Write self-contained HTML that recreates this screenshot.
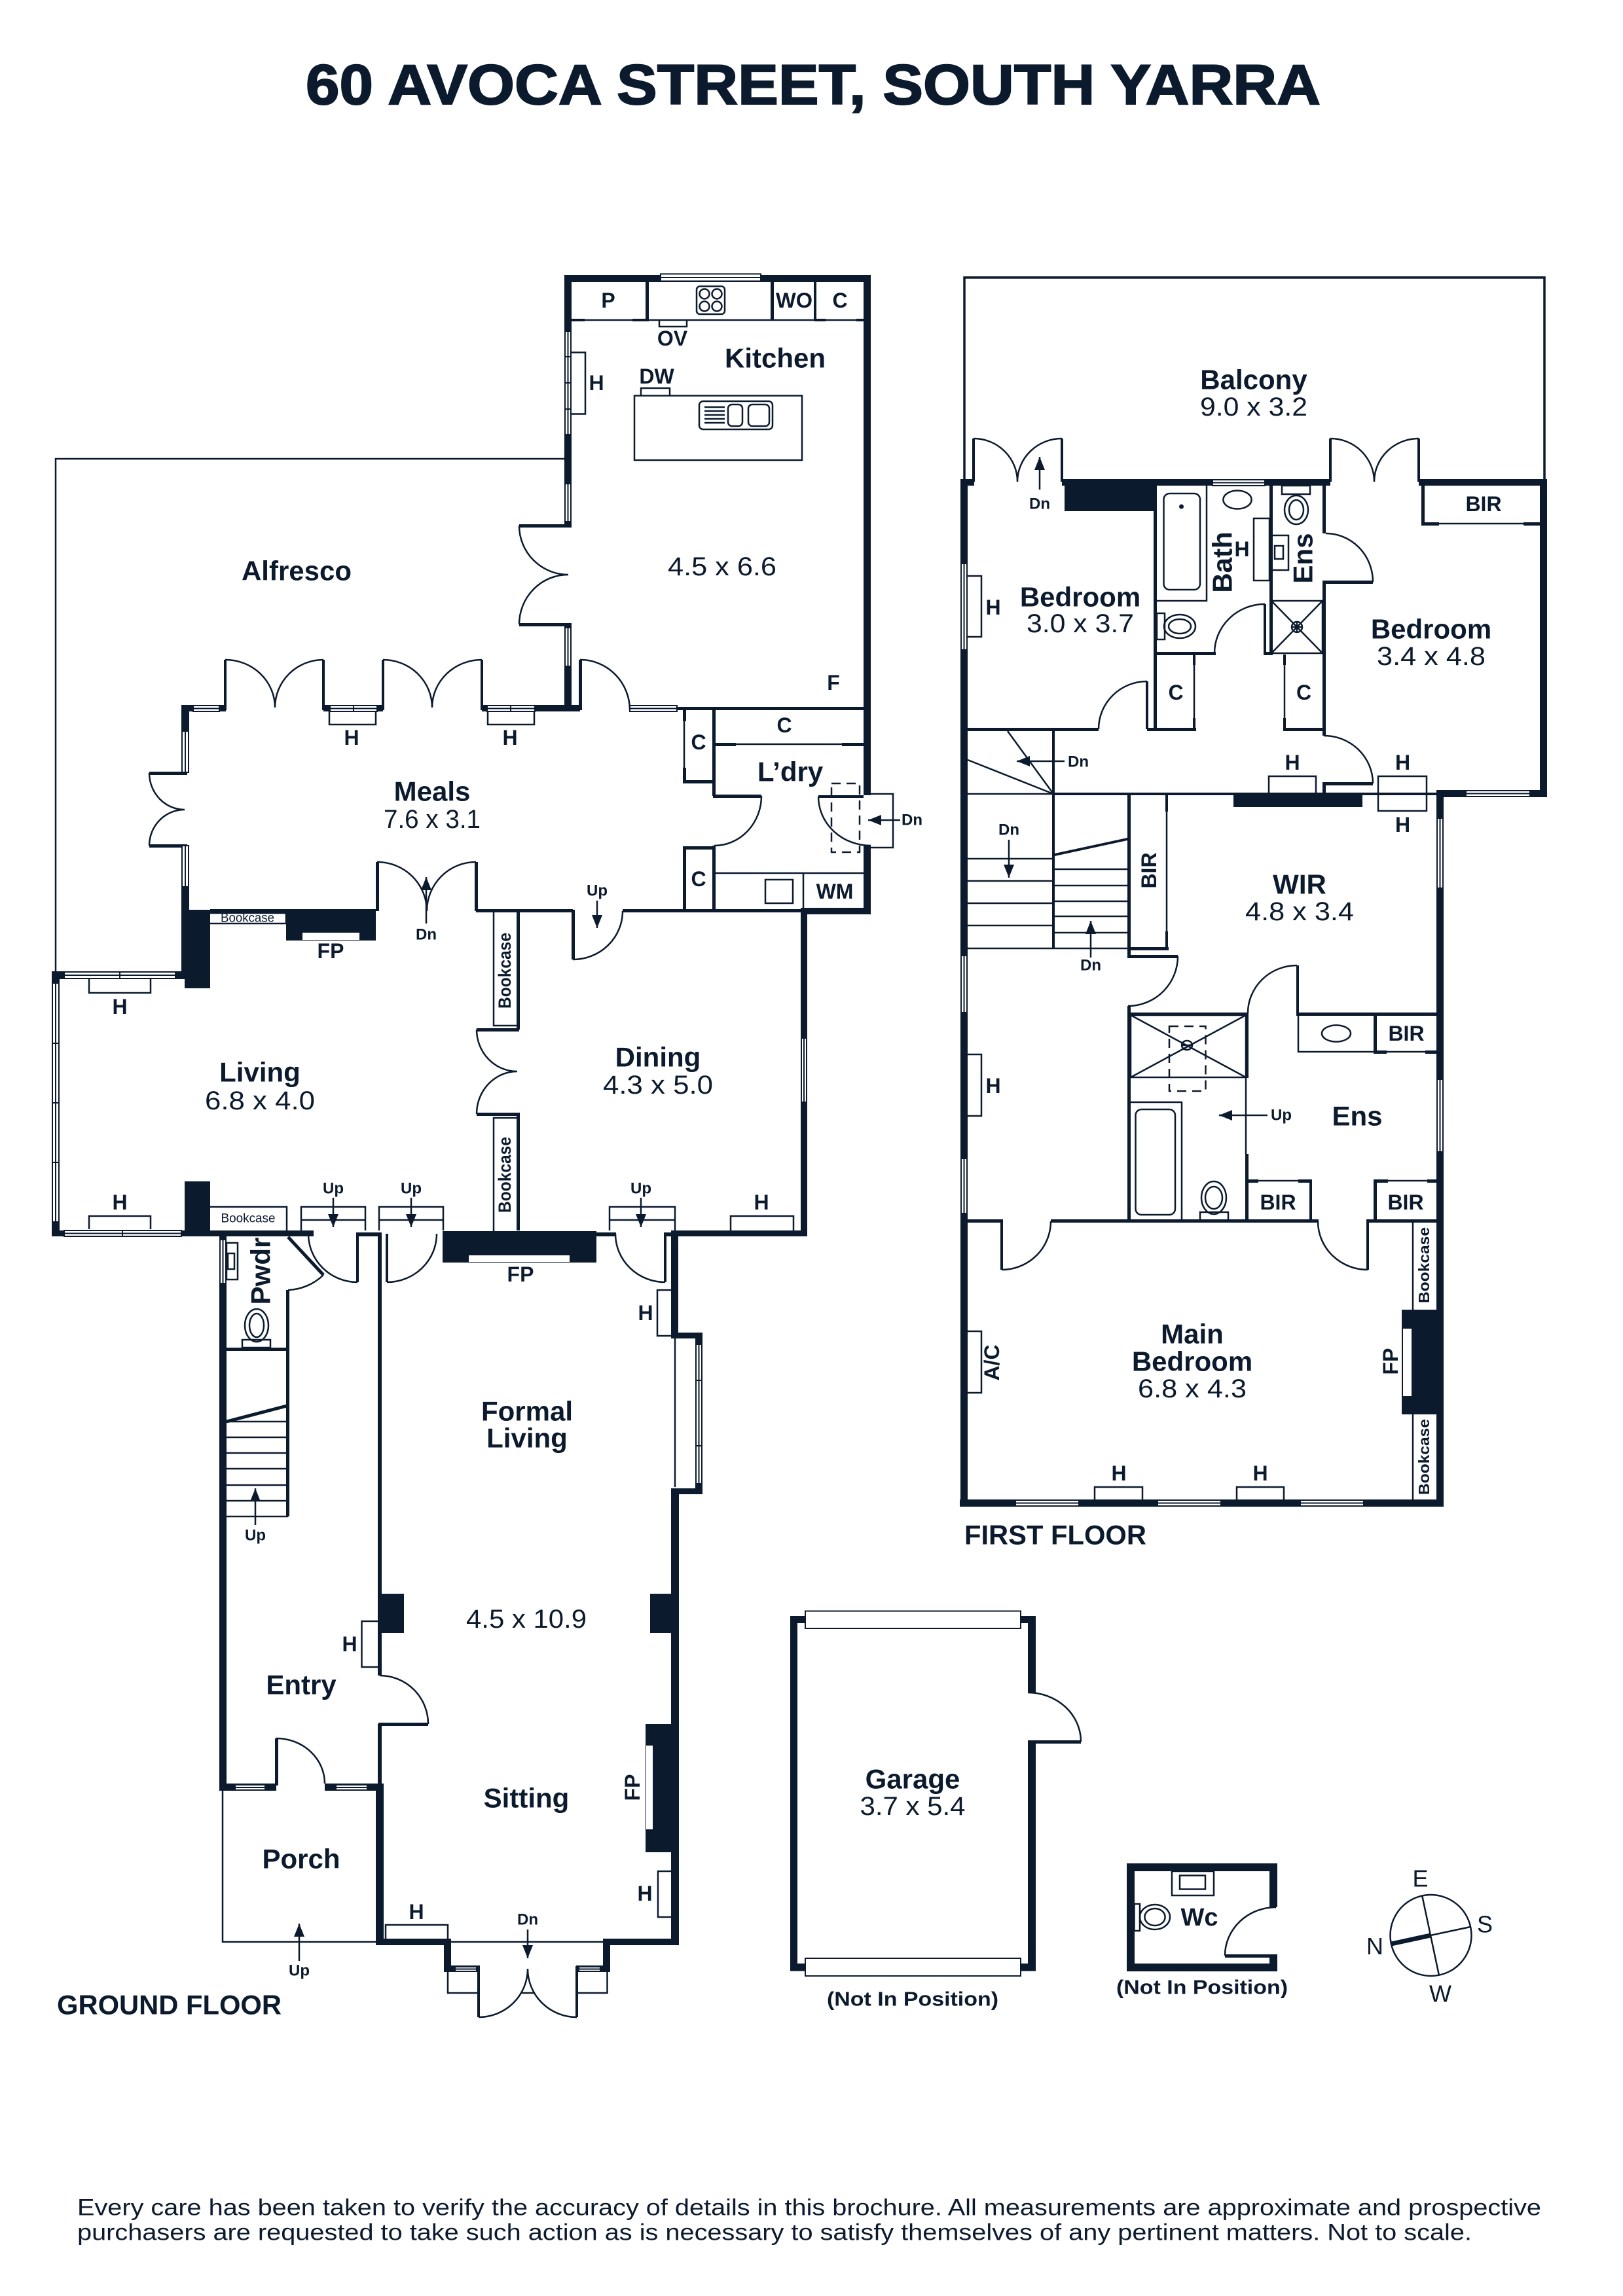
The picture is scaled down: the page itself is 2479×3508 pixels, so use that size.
<!DOCTYPE html>
<html><head><meta charset="utf-8"><title>60 Avoca Street, South Yarra</title>
<style>
html,body{margin:0;padding:0;background:#fff}
svg{display:block}
text{font-family:"Liberation Sans",sans-serif;fill:#0c1a2e;text-anchor:middle;dominant-baseline:central}
.b{font-weight:700;font-size:42px}
.r{font-size:40px}
.s{font-weight:700;font-size:32px}
.t{font-weight:700;font-size:24px}
.l{font-weight:700;font-size:42px;text-anchor:start}
.bc{font-size:19px}
.vb{font-size:27px;font-weight:700}
.c{font-size:36px}
.np{font-weight:700;font-size:31px}
</style></head><body>
<svg xmlns="http://www.w3.org/2000/svg" width="2479" height="3508" viewBox="0 0 2479 3508">
<defs><marker id="a" markerUnits="userSpaceOnUse" markerWidth="22" markerHeight="18" refX="20" refY="8" orient="auto"><path d="M0 0L20 8L0 16z" fill="#0c1a2e"/></marker></defs>
<rect width="2479" height="3508" fill="#fff"/>

<!-- thin lines -->
<g fill="none" stroke="#0c1a2e" stroke-width="2.5">
<path d="M862 701H85V1484"/>
<path d="M340 2736V2967H576"/>
<path d="M689 2967H921"/>
<path d="M873 489H1319"/>
<path d="M1045 1100V1175M1123 1137H1286"/>
<path d="M1031 2045V2272"/>
<path d="M1091 1334H1319M1227 1334V1390"/>
<path d="M754 1392V1567H790M754 1881V1708H790"/>
<path d="M321 1395H437M321 1411H437M437 1395V1411"/>
<path d="M321 1844H438V1881"/>
<path d="M1473 732V424H2359V732" stroke-width="3.5"/>
<path d="M2198 800H2327"/>
<path d="M1824 1016V1097M1962 1016V1097"/>
<path d="M1539 1117L1609 1213M1478 1161L1609 1213M1478 1213H1609"/>
<path d="M1478 1312H1609M1478 1346H1609M1478 1380H1609M1478 1414H1609M1478 1449H1609"/>
<path d="M1609 1328H1722M1609 1353H1722M1609 1377H1722M1609 1400H1722M1609 1425H1722M1609 1449H1722"/>
<path d="M1782 1240V1423"/>
<path d="M1903 1647V1763"/>
<path d="M2118 1607H2177"/>
<path d="M1922 1804H1983M2120 1804H2180"/>
<path d="M2158 1868V2001M2158 2161V2291"/>
<path d="M346 2196H440M346 2220H440M346 2244H440M346 2269H440M346 2293H440M346 2317H440M346 2172H440"/>
<!-- H boxes ground -->
<path d="M873 538.5H894V632.5H873"/>
<path d="M1007 489V499H1049V489"/>
<path d="M979 604.5V593H1023V604.5"/>
<rect x="969" y="604.5" width="256" height="98.5"/>
<path d="M503 1086V1107H574V1086M745 1086V1107H816V1086"/>
<path d="M136 1496V1517H230V1496M136 1878V1858H230V1878"/>
<path d="M1116 1880V1858H1212V1880"/>
<path d="M460 1880V1844H558V1880M460 1864H558M579 1880V1844H677V1880M579 1864H677M931 1880V1844H1031V1880M931 1864H1031"/>
<path d="M1025 1971H1004V2041H1025"/>
<path d="M577 2477H552.5V2547H577"/>
<path d="M1025 2859H1005V2929H1025"/>
<path d="M589 2962V2941H684V2962"/>
<path d="M684 3013V3045H731M881 3045H927.5V3013M795 3045H817"/>
<path d="M1330 1213H1364V1295H1330"/>
<path d="M1270 1197H1313V1302H1270z" stroke-dasharray="14 9"/>
<rect x="1169" y="1344" width="42" height="36"/>
<!-- H boxes first -->
<path d="M1478 880H1499V973H1478"/>
<path d="M1915 792H1939V887H1915z"/>
<path d="M1938 1211V1186H2010V1211"/>
<rect x="2105" y="1186" width="74" height="53"/>
<path d="M1478 1611H1499V1705H1478M1478 2034H1499V2128H1478"/>
<path d="M1672 2291V2272H1745V2291M1889 2291V2272H1961V2291"/>
<path d="M1786 1568H1841.5V1667H1786z" stroke-dasharray="14 9"/>
<!-- bath etc -->
<path d="M1767 918H1843V742"/>
<rect x="1777.5" y="754" width="55.5" height="147" rx="9"/>
<ellipse cx="1890" cy="763.5" rx="21.6" ry="14"/>
<rect x="1958" y="742" width="43" height="13"/>
<ellipse cx="1980" cy="779" rx="18" ry="22"/><ellipse cx="1980" cy="779" rx="11" ry="15"/>
<rect x="1942" y="818" width="26" height="53"/><rect x="1947" y="834" width="13" height="20"/>
<rect x="1942" y="918" width="78" height="80"/>
<path d="M1942 918L2020 998M2020 918L1942 998"/>
<circle cx="1981" cy="958" r="8"/><path d="M1973 958H1989M1981 950V966"/>
<rect x="1767" y="937" width="12" height="40"/>
<ellipse cx="1802" cy="957" rx="24" ry="18"/><ellipse cx="1802" cy="957" rx="17" ry="11"/>
<rect x="1727" y="1551" width="176" height="95"/>
<path d="M1727 1551L1903 1646M1903 1551L1727 1646"/>
<ellipse cx="1813" cy="1597" rx="8" ry="7"/><path d="M1805 1597H1821"/>
<path d="M1727 1684H1805V1865"/>
<rect x="1734.5" y="1695" width="60.5" height="161" rx="9"/>
<ellipse cx="1854" cy="1830" rx="19" ry="25"/><ellipse cx="1854" cy="1830" rx="13" ry="17"/>
<rect x="1833" y="1852" width="43" height="13"/>
<path d="M1983 1549V1607H2098"/>
<ellipse cx="2041" cy="1579" rx="22" ry="12.6"/>
<!-- kitchen fixtures -->
<rect x="1064" y="437.5" width="43" height="42.5" rx="5"/>
<circle cx="1076" cy="449" r="7.5"/><circle cx="1095" cy="449" r="7.5"/><circle cx="1076" cy="468" r="7.5"/><circle cx="1095" cy="468" r="7.5"/>
<rect x="1068" y="613" width="112" height="43" rx="6"/>
<rect x="1112" y="618" width="22" height="33" rx="6"/><rect x="1143" y="618" width="32" height="33" rx="6"/>
<path d="M1076 622H1107M1076 628H1107M1076 634H1107M1076 640H1107M1076 646H1107"/>
<!-- powder -->
<rect x="346" y="1899" width="17" height="56"/><rect x="348" y="1915" width="10" height="24"/>
<ellipse cx="392" cy="2025" rx="18" ry="25"/><ellipse cx="392" cy="2025" rx="11" ry="18"/>
<rect x="370" y="2047" width="43" height="12"/>
<path d="M346 2172L438 2148" stroke-width="5"/>
<path d="M440 1890L494 1948" stroke-width="5"/>
<!-- doors -->
<path d="M793 803A75 75 0 0 0 868 878A75 76 0 0 0 793 954"/>
<path d="M344 1008A76 73 0 0 1 420 1081M494 1008A74 73 0 0 0 420 1081M585 1008A75 73 0 0 1 660 1081M736 1008A76 73 0 0 0 660 1081M886 1008A76 77 0 0 1 962 1085"/>
<path d="M228 1181A54 56 0 0 0 282 1237M228 1292A54 55 0 0 1 282 1237"/>
<path d="M1163 1216A72 76 0 0 1 1091 1292M1250 1217A80 75 0 0 0 1330 1292"/>
<path d="M576 1317A76 75 0 0 1 652 1392M727 1317A75 75 0 0 0 652 1392"/>
<path d="M875 1466A76 74 0 0 0 951 1392"/>
<path d="M728 1573A62 64 0 0 0 790 1637M728 1702A62 65 0 0 1 790 1637"/>
<path d="M546 1959A75 74 0 0 1 471 1885M591 1959A76 74 0 0 0 667 1885M1016 1959A76 74 0 0 1 940 1885"/>
<path d="M494 1948A83 83 0 0 1 440 1971"/>
<path d="M580 2560A74 74 0 0 1 654 2634M422 2656A74 69 0 0 1 496 2725"/>
<path d="M731 3082A75 74 0 0 0 806 3008M881 3082A75 74 0 0 1 806 3008"/>
<path d="M1487 670A67 66 0 0 1 1554 736M1622 670A68 66 0 0 0 1554 736M2032 670A67 66 0 0 1 2099 736M2167 670A68 66 0 0 0 2099 736"/>
<path d="M2025 815A72 74 0 0 1 2097 889M1932 923A77 75 0 0 0 1855 998M1752 1041A74 73 0 0 0 1678 1114M2022 1124A75 73 0 0 1 2097 1197"/>
<path d="M1799 1461A76 76 0 0 1 1723 1537M1981 1475A75 73 0 0 0 1906 1548M1530 1940A75 74 0 0 0 1605 1866M2089 1940A76 74 0 0 1 2013 1866"/>
<path d="M1570 2586A81 75 0 0 1 1651 2661M1949 2914A78 74 0 0 0 1871 2988"/>
<!-- garage/wc fixtures -->
<rect x="1790" y="2859" width="64" height="37"/><rect x="1802" y="2865.5" width="39" height="21"/>
<rect x="1732.5" y="2909" width="8.5" height="41"/>
<ellipse cx="1764" cy="2929" rx="23" ry="19"/><ellipse cx="1764" cy="2929" rx="15.6" ry="13"/>
<circle cx="2185.5" cy="2957" r="62"/>
<path d="M2185 2957L2246 2944M2172 2895.5L2198 3018"/>
<path d="M2125 2970L2185 2957" stroke-width="7"/>
</g>

<!-- walls -->
<g fill="#0c1a2e">
<rect x="862" y="420" width="468" height="11"/><rect x="1319" y="420" width="11" height="795"/><rect x="1319" y="1292" width="11" height="105"/>
<rect x="862" y="420" width="11" height="383"/><rect x="862" y="954" width="11" height="131"/><rect x="1223" y="1387" width="107" height="10"/>
<rect x="986" y="430" width="5" height="59"/><rect x="1177" y="430" width="5" height="59"/><rect x="1243" y="430" width="4" height="59"/>
<rect x="873" y="487" width="20" height="4"/><rect x="966" y="487" width="25" height="4"/><rect x="1244" y="487" width="17" height="4"/><rect x="1308" y="487" width="11" height="4"/>
<rect x="793" y="801" width="80" height="5"/><rect x="793" y="952" width="80" height="5"/>
<rect x="277" y="1077" width="68" height="10"/><rect x="494" y="1077" width="91" height="10"/><rect x="736" y="1077" width="150" height="10"/>
<rect x="342" y="1008" width="4" height="77"/><rect x="492" y="1008" width="4" height="77"/><rect x="583" y="1008" width="4" height="77"/><rect x="734" y="1008" width="4" height="77"/><rect x="884" y="1008" width="5" height="77"/>
<rect x="277" y="1077" width="12" height="104"/><rect x="277" y="1292" width="12" height="98"/>
<rect x="228" y="1179" width="58" height="5"/><rect x="228" y="1290" width="58" height="5"/>
<rect x="1034" y="1080" width="285" height="5"/>
<rect x="1088" y="1082" width="5" height="134"/><rect x="1089" y="1214" width="74" height="5"/><rect x="1088" y="1292" width="5" height="100"/>
<rect x="1043" y="1082" width="5" height="20"/><rect x="1043" y="1173" width="5" height="24"/><rect x="1043" y="1192" width="50" height="5"/><rect x="1043" y="1293" width="50" height="5"/><rect x="1043" y="1293" width="5" height="99"/>
<rect x="1091" y="1135" width="33" height="5"/><rect x="1286" y="1135" width="33" height="5"/>
<rect x="1250" y="1215" width="69" height="4"/>
<rect x="574" y="1317" width="5" height="75"/><rect x="725" y="1317" width="5" height="75"/><rect x="873" y="1390" width="5" height="76"/>
<rect x="727" y="1389" width="148" height="5"/><rect x="951" y="1389" width="272" height="5"/>
<rect x="321" y="1389" width="253" height="6"/><rect x="437" y="1389" width="137" height="48"/>
<rect x="277" y="1390" width="44" height="95"/><rect x="282" y="1485" width="39" height="25"/>
<rect x="789" y="1392" width="5" height="181"/><rect x="728" y="1571" width="65" height="5"/><rect x="728" y="1700" width="65" height="5"/><rect x="789" y="1700" width="5" height="180"/>
<rect x="79" y="1484" width="203" height="12"/><rect x="79" y="1484" width="12" height="405"/><rect x="79" y="1880" width="400" height="9"/><rect x="282" y="1805" width="39" height="84"/>
<rect x="544" y="1883" width="39" height="6"/><rect x="544" y="1885" width="4" height="74"/><rect x="589" y="1885" width="4" height="74"/><rect x="911" y="1883" width="30" height="6"/><rect x="1014" y="1885" width="4" height="74"/><rect x="1014" y="1883" width="22" height="6"/>
<rect x="676" y="1881" width="235" height="48"/>
<rect x="1027" y="1880" width="206" height="9"/><rect x="1223" y="1397" width="10" height="492"/>
<rect x="1025" y="1880" width="11" height="165"/><rect x="1025" y="2036" width="48" height="9"/><rect x="1062" y="2036" width="11" height="247"/><rect x="1025" y="2274" width="48" height="9"/><rect x="1025" y="2274" width="12" height="698"/>
<rect x="335" y="1885" width="11" height="851"/><rect x="335" y="2725" width="87" height="11"/><rect x="496" y="2725" width="90" height="11"/>
<rect x="420" y="2656" width="5" height="72"/>
<rect x="437" y="1971" width="5" height="346"/><rect x="346" y="2059" width="94" height="5"/><rect x="335" y="1883" width="105" height="6"/><rect x="436" y="1883" width="35" height="6"/>
<rect x="577" y="1885" width="6" height="675"/><rect x="577" y="2634" width="6" height="100"/><rect x="578" y="2632" width="76" height="5"/>
<rect x="582" y="2435" width="35" height="60"/><rect x="993" y="2435" width="32" height="60"/><rect x="986" y="2634" width="39" height="196"/>
<rect x="574" y="2725" width="12" height="247"/><rect x="574" y="2962" width="115" height="10"/><rect x="678" y="2962" width="11" height="51"/><rect x="678" y="3003" width="55" height="10"/>
<rect x="921" y="2962" width="116" height="10"/><rect x="921" y="2962" width="11" height="51"/><rect x="880" y="3003" width="52" height="10"/>
<rect x="729" y="3004" width="4" height="78"/><rect x="879" y="3004" width="4" height="78"/>
<!-- first floor -->
<rect x="1467" y="732" width="21" height="10"/><rect x="1622" y="732" width="410" height="10"/><rect x="2167" y="732" width="196" height="10"/>
<rect x="1485" y="670" width="4" height="66"/><rect x="1620" y="670" width="4" height="66"/><rect x="2030" y="670" width="4" height="66"/><rect x="2165" y="670" width="4" height="66"/>
<rect x="1467" y="732" width="11" height="1570"/><rect x="1466" y="2291" width="739" height="11"/><rect x="2352" y="732" width="11" height="486"/>
<rect x="2194" y="1207" width="169" height="11"/><rect x="2194" y="1207" width="11" height="1095"/>
<rect x="1626" y="732" width="138" height="49"/>
<rect x="1762" y="742" width="5" height="372"/><rect x="1939" y="742" width="5" height="257"/><rect x="2020" y="742" width="5" height="73"/><rect x="2020" y="889" width="5" height="235"/><rect x="2020" y="887" width="77" height="5"/>
<rect x="2171" y="742" width="5" height="60"/><rect x="2171" y="798" width="27" height="5"/><rect x="2327" y="798" width="25" height="5"/>
<rect x="1762" y="996" width="95" height="5"/><rect x="1930" y="996" width="14" height="5"/><rect x="1930" y="923" width="4" height="75"/>
<rect x="1822" y="1000" width="4" height="16"/><rect x="1822" y="1097" width="4" height="17"/><rect x="1752" y="1112" width="75" height="5"/><rect x="1750" y="1041" width="4" height="73"/>
<rect x="1960" y="1000" width="4" height="16"/><rect x="1960" y="1097" width="4" height="17"/><rect x="1960" y="1112" width="62" height="5"/>
<rect x="1478" y="1112" width="200" height="5"/><rect x="2020" y="1195" width="77" height="5"/><rect x="2020" y="1195" width="5" height="20"/>
<rect x="1609" y="1211" width="590" height="4"/><rect x="1884" y="1214" width="197" height="19"/>
<rect x="1607" y="1117" width="4" height="332"/><rect x="1722" y="1213" width="5" height="248"/><rect x="1780" y="1214" width="4" height="26"/><rect x="1780" y="1423" width="4" height="26"/><rect x="1724" y="1447" width="61" height="5"/>
<rect x="1722" y="1459" width="77" height="5"/><rect x="1722" y="1537" width="5" height="328"/><rect x="1722" y="1547" width="183" height="5"/><rect x="1902" y="1547" width="5" height="100"/><rect x="1902" y="1763" width="5" height="102"/>
<rect x="1980" y="1475" width="4" height="76"/><rect x="1980" y="1547" width="214" height="5"/><rect x="2098" y="1547" width="5" height="60"/><rect x="2098" y="1605" width="20" height="5"/><rect x="2177" y="1605" width="17" height="5"/>
<rect x="1902" y="1802" width="20" height="5"/><rect x="1983" y="1802" width="21" height="5"/><rect x="2000" y="1802" width="4" height="63"/><rect x="2098" y="1802" width="5" height="63"/><rect x="2098" y="1802" width="22" height="5"/><rect x="2180" y="1802" width="14" height="5"/>
<rect x="1478" y="1863" width="54" height="5"/><rect x="1528" y="1863" width="4" height="77"/><rect x="1605" y="1863" width="409" height="5"/><rect x="2087" y="1863" width="4" height="77"/><rect x="2087" y="1863" width="107" height="5"/>
<rect x="2141" y="2001" width="64" height="160"/>
<path d="M1611 1304L1722 1280L1722 1284L1611 1308z"/>
<!-- garage -->
<rect x="1207" y="2469" width="11" height="542"/><rect x="1570" y="2469" width="12" height="117"/><rect x="1570" y="2661" width="12" height="350"/><rect x="1570" y="2659" width="81" height="5"/>
<rect x="1207" y="2469" width="25" height="11"/><rect x="1557" y="2469" width="25" height="11"/><rect x="1207" y="3000" width="25" height="11.5"/><rect x="1557" y="3000" width="25" height="11.5"/>
<!-- wc -->
<rect x="1721" y="2847" width="230" height="12"/><rect x="1721" y="2847" width="12" height="165"/><rect x="1939" y="2847" width="12" height="67"/><rect x="1939" y="2986" width="12" height="26"/><rect x="1721" y="3000" width="230" height="12"/><rect x="1871" y="2986" width="80" height="5"/>
<circle cx="1804.5" cy="774" r="3.5"/>
</g>

<!-- garage doors, fireplace whites, windows -->
<g fill="#fff" stroke="#0c1a2e" stroke-width="2">
<rect x="1230" y="2461.5" width="329" height="26.5"/><rect x="1230" y="2992" width="329" height="27"/>
<rect x="462" y="1425" width="87" height="11" stroke="none"/><rect x="716" y="1918" width="154" height="10" stroke="none"/><rect x="987" y="2667" width="10" height="128" stroke="none"/><rect x="2143" y="2030" width="13" height="103" stroke="none"/>
<!-- ground windows -->
<path d="M1009 418.5h153v11h-153zM1009 424h153"/>
<path d="M863 506h9v158h-9zM867.500 506v158M863 545h9M863 585h9M863 625h9"/>
<path d="M863 739h9v58h-9zM867.500 739v58"/><path d="M863 959h9v59h-9zM867.500 959v59"/>
<path d="M295 1078h40v9h-40zM295 1082.500h40"/><path d="M504 1078h72v9h-72zM504 1082.500h72M540 1078v9"/><path d="M744 1078h73v9h-73zM744 1082.500h73M780 1078v9"/><path d="M962 1078h72v9h-72zM962 1082.500h72"/>
<path d="M278 1117h10v63h-10zM283 1117v63"/><path d="M278 1292h10v63h-10zM283 1292v63"/>
<path d="M98 1485h170v10h-170zM98 1490h170M183 1485v10"/><path d="M80 1502h10v365h-10zM85 1502v365M80 1594h10M80 1685h10M80 1776h10"/><path d="M98 1880h179v9h-179zM98 1884.500h179M187 1880v9"/>
<path d="M1224 1586h8v98h-8zM1228 1586v98"/><path d="M336 1894h9v67h-9zM340.500 1894v67"/><path d="M1063 2054h9v213h-9zM1067.500 2054v213M1063 2109h9M1063 2209h9"/>
<path d="M359 2727h46v8h-46zM359 2731h46"/><path d="M513 2727h48v8h-48zM513 2731h48"/><path d="M695 3005h33v7h-33zM695 3008.500h33"/><path d="M884 3005h33v7h-33zM884 3008.500h33"/>
<!-- first windows -->
<path d="M1468 861h9v132h-9zM1472.500 861v132"/><path d="M1852 733h80v9h-80zM1852 737.500h80"/><path d="M2239 1208h98v9h-98zM2239 1212.500h98"/>
<path d="M2195 1250h9v107h-9zM2199.500 1250v107"/><path d="M2195 1649h9v111h-9zM2199.500 1649v111"/>
<path d="M1468 1460h9v87h-9zM1472.500 1460v87"/><path d="M1468 1770h9v84h-9zM1472.500 1770v84"/>
<path d="M1551 2292h97v9h-97zM1551 2296.500h97"/><path d="M1768 2292h97v9h-97zM1768 2296.500h97"/><path d="M1986 2292h97v9h-97zM1986 2296.500h97"/>
</g>

<!-- arrows -->
<g fill="none" stroke="#0c1a2e" stroke-width="2.5">
<path marker-end="url(#a)" d="M1375 1253H1326"/>
<path marker-end="url(#a)" d="M651 1411V1340"/>
<path marker-end="url(#a)" d="M912 1376V1418"/>
<path marker-end="url(#a)" d="M509 1830V1875"/>
<path marker-end="url(#a)" d="M628 1830V1875"/>
<path marker-end="url(#a)" d="M979 1830V1875"/>
<path marker-end="url(#a)" d="M390 2330V2274"/>
<path marker-end="url(#a)" d="M457 2996V2939"/>
<path marker-end="url(#a)" d="M806 2948V2992"/>
<path marker-end="url(#a)" d="M1588 748V698"/>
<path marker-end="url(#a)" d="M1626 1163H1553"/>
<path marker-end="url(#a)" d="M1541 1283V1341"/>
<path marker-end="url(#a)" d="M1666 1463V1407"/>
<path marker-end="url(#a)" d="M1936 1704H1862"/>
</g>

<!-- text -->
<text x="1242" y="130" font-size="86" font-weight="700" stroke="#0c1a2e" stroke-width="2" textLength="1550" lengthAdjust="spacingAndGlyphs">60 AVOCA STREET, SOUTH YARRA</text>

<text class="s" x="929" y="459">P</text>
<text class="s" x="1213" y="459" textLength="56" lengthAdjust="spacingAndGlyphs">WO</text>
<text class="s" x="1283" y="459">C</text>
<text class="s" x="1027" y="517">OV</text>
<text class="s" x="1003" y="575">DW</text>
<text class="b" x="1184" y="547">Kitchen</text>
<text class="s" x="911" y="585">H</text>
<text class="b" x="453" y="872">Alfresco</text>
<text class="r" x="1103" y="866" textLength="166" lengthAdjust="spacingAndGlyphs">4.5 x 6.6</text>
<text class="s" x="1273" y="1043">F</text>
<text class="s" x="537" y="1127">H</text><text class="s" x="779" y="1127">H</text>
<text class="s" x="1198" y="1108">C</text><text class="s" x="1067" y="1134">C</text><text class="s" x="1067" y="1343">C</text>
<text class="b" x="1207" y="1179">L’dry</text>
<text class="s" x="1275" y="1362">WM</text>
<text class="t" x="1393" y="1253">Dn</text>
<text class="b" x="660" y="1209">Meals</text>
<text class="r" x="660" y="1252" textLength="148" lengthAdjust="spacingAndGlyphs">7.6 x 3.1</text>
<text class="t" x="651" y="1428">Dn</text>
<text class="t" x="912" y="1361">Up</text>
<text class="bc" x="378" y="1403" textLength="82" lengthAdjust="spacingAndGlyphs">Bookcase</text>
<text class="s" x="505" y="1453">FP</text>
<text class="vb" transform="translate(771 1483) rotate(-90)" textLength="116" lengthAdjust="spacingAndGlyphs">Bookcase</text>
<text class="vb" transform="translate(771 1795) rotate(-90)" textLength="116" lengthAdjust="spacingAndGlyphs">Bookcase</text>
<text class="s" x="183" y="1538">H</text><text class="s" x="183" y="1837">H</text><text class="s" x="1163" y="1837">H</text>
<text class="b" x="397" y="1638">Living</text>
<text class="r" x="397" y="1682" textLength="168" lengthAdjust="spacingAndGlyphs">6.8 x 4.0</text>
<text class="b" x="1005" y="1615">Dining</text>
<text class="r" x="1005" y="1658" textLength="168" lengthAdjust="spacingAndGlyphs">4.3 x 5.0</text>
<text class="bc" x="379" y="1862" textLength="83" lengthAdjust="spacingAndGlyphs">Bookcase</text>
<text class="t" x="509" y="1816">Up</text><text class="t" x="628" y="1816">Up</text><text class="t" x="979" y="1816">Up</text>
<text class="s" x="795" y="1947">FP</text>
<text class="b" transform="translate(398 1942) rotate(-90)">Pwdr</text>
<text class="s" x="986" y="2006">H</text>
<text class="b" x="805" y="2156">Formal</text><text class="b" x="805" y="2197">Living</text>
<text class="t" x="390" y="2346">Up</text>
<text class="r" x="804" y="2474" textLength="184" lengthAdjust="spacingAndGlyphs">4.5 x 10.9</text>
<text class="s" x="534" y="2512">H</text>
<text class="b" x="460" y="2574">Entry</text>
<text class="b" x="804" y="2747">Sitting</text>
<text class="s" transform="translate(966 2731) rotate(-90)">FP</text>
<text class="b" x="460" y="2840">Porch</text>
<text class="s" x="985" y="2893">H</text><text class="s" x="636" y="2921">H</text>
<text class="t" x="806" y="2933">Dn</text><text class="t" x="457" y="3011">Up</text>
<text class="l" x="87" y="3063" textLength="343" lengthAdjust="spacingAndGlyphs">GROUND FLOOR</text>

<text class="b" x="1915" y="580">Balcony</text>
<text class="r" x="1915" y="622" textLength="164" lengthAdjust="spacingAndGlyphs">9.0 x 3.2</text>
<text class="t" x="1588" y="770">Dn</text>
<text class="s" x="2266" y="770">BIR</text>
<text class="b" transform="translate(1867 859) rotate(-90)">Bath</text>
<text class="s" x="1897" y="839">H</text>
<text class="b" transform="translate(1990 853) rotate(-90)">Ens</text>
<text class="s" x="1517" y="928">H</text>
<text class="b" x="1650" y="912">Bedroom</text>
<text class="r" x="1650" y="953" textLength="164" lengthAdjust="spacingAndGlyphs">3.0 x 3.7</text>
<text class="b" x="2186" y="961">Bedroom</text>
<text class="r" x="2186" y="1003" textLength="166" lengthAdjust="spacingAndGlyphs">3.4 x 4.8</text>
<text class="s" x="1796" y="1058">C</text><text class="s" x="1991.5" y="1058">C</text>
<text class="t" x="1647" y="1164">Dn</text>
<text class="s" x="1974" y="1165">H</text><text class="s" x="2142.600" y="1165">H</text><text class="s" x="2142.600" y="1260">H</text>
<text class="t" x="1541" y="1268">Dn</text>
<text class="s" transform="translate(1755 1330) rotate(-90)">BIR</text>
<text class="b" x="1985" y="1351">WIR</text>
<text class="r" x="1985" y="1393" textLength="166" lengthAdjust="spacingAndGlyphs">4.8 x 3.4</text>
<text class="t" x="1666" y="1475">Dn</text>
<text class="s" x="2148" y="1579">BIR</text>
<text class="s" x="1517" y="1659">H</text>
<text class="t" x="1957" y="1704">Up</text>
<text class="b" x="2073" y="1705">Ens</text>
<text class="s" x="1952" y="1837">BIR</text><text class="s" x="2147" y="1837">BIR</text>
<text class="vb" transform="translate(2175 1933) rotate(-90)" style="font-size:23px" textLength="116" lengthAdjust="spacingAndGlyphs">Bookcase</text>
<text class="vb" transform="translate(2175 2226) rotate(-90)" style="font-size:23px" textLength="116" lengthAdjust="spacingAndGlyphs">Bookcase</text>
<text class="b" x="1821" y="2038">Main</text><text class="b" x="1821" y="2080">Bedroom</text>
<text class="r" x="1821" y="2122" textLength="166" lengthAdjust="spacingAndGlyphs">6.8 x 4.3</text>
<text class="s" transform="translate(1515 2082) rotate(-90)">A/C</text>
<text class="s" transform="translate(2124 2080) rotate(-90)">FP</text>
<text class="s" x="1709" y="2251">H</text><text class="s" x="1925" y="2251">H</text>
<text class="l" x="1473" y="2345" textLength="278" lengthAdjust="spacingAndGlyphs">FIRST FLOOR</text>

<text class="b" x="1394" y="2718">Garage</text>
<text class="r" x="1394" y="2760" textLength="161" lengthAdjust="spacingAndGlyphs">3.7 x 5.4</text>
<text class="np" x="1394" y="3054" textLength="262" lengthAdjust="spacingAndGlyphs">(Not In Position)</text>
<text class="b" x="1832" y="2930" style="font-size:38px">Wc</text>
<text class="np" x="1836" y="3036" textLength="262" lengthAdjust="spacingAndGlyphs">(Not In Position)</text>
<text class="c" x="2169.500" y="2870">E</text><text class="c" x="2268" y="2940">S</text><text class="c" x="2100" y="2973.600">N</text><text class="c" x="2200" y="3046">W</text>

<text x="118" y="3373" font-size="35" style="text-anchor:start" textLength="2236" lengthAdjust="spacingAndGlyphs">Every care has been taken to verify the accuracy of details in this brochure. All measurements are approximate and prospective</text>
<text x="118" y="3411" font-size="35" style="text-anchor:start" textLength="2130" lengthAdjust="spacingAndGlyphs">purchasers are requested to take such action as is necessary to satisfy themselves of any pertinent matters. Not to scale.</text>
</svg>
</body></html>
